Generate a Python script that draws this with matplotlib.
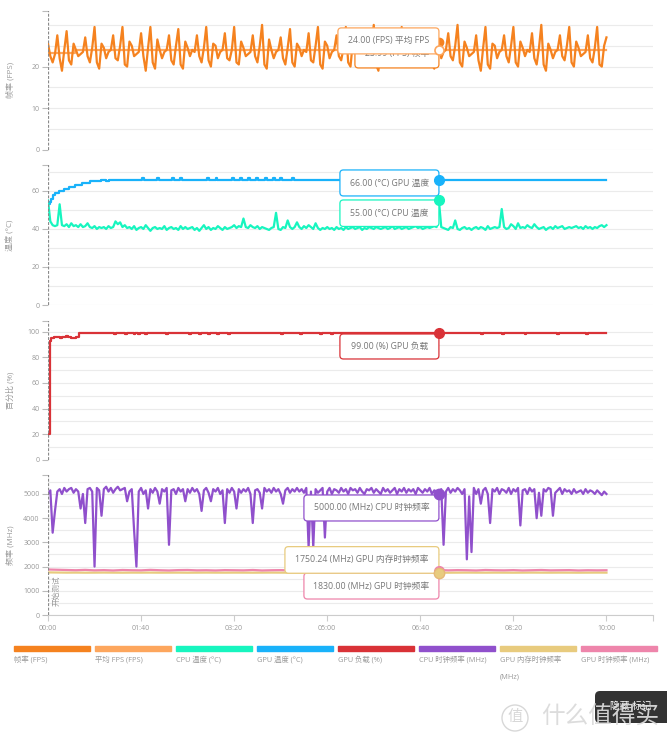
import numpy as np
import matplotlib
matplotlib.use("Agg")
import matplotlib.pyplot as plt
from matplotlib.patches import FancyBboxPatch, Rectangle, Circle
from matplotlib.transforms import ScaledTranslation

plt.rcParams['font.family'] = ['Open Sans', 'Noto Sans CJK SC', 'DejaVu Sans']

# ---- data (seconds, read off the capture) ----
# frame rate, one sample every 2.5 s from 0 to 600 s
fps = [25.5, 22.5, 21.0,
       23.0, 27.5, 22.0, 19.0, 24.0, 28.5, 21.5, 20.5, 25.5, 24.0, 22.5, 23.0,
       23.5, 27.0, 22.5, 21.0, 24.5, 29.5, 21.0, 19.5, 25.5, 24.5, 22.0, 23.5,
       24.0, 27.5, 22.0, 21.5, 25.0, 29.5, 20.5, 20.0, 26.0, 25.0, 22.5, 23.0,
       23.5, 28.0, 22.5, 19.0, 24.5, 29.5, 21.0, 19.5, 26.5, 24.0, 22.0, 23.5,
       24.0, 27.5, 21.5, 20.5, 25.0, 29.0, 20.5, 19.5, 26.0, 24.5, 22.5, 24.0,
       23.5, 27.5, 22.5, 21.0, 24.5, 29.5, 21.5, 20.0, 25.5, 25.0, 22.0, 23.5,
       24.0, 28.0, 22.0, 21.5, 24.0, 29.5, 21.0, 20.5, 26.0, 24.5, 22.5, 23.0,
       23.5, 27.5, 22.5, 21.0, 25.0, 30.0, 20.5, 19.5, 26.5, 24.0, 22.0, 23.5,
       24.0, 27.0, 22.0, 20.5, 24.5, 29.0, 21.0, 20.0, 25.5, 24.5, 22.5, 24.0,
       23.5, 28.0, 21.5, 21.0, 25.0, 29.5, 20.5, 19.5, 26.0, 25.0, 22.0, 23.5,
       24.0, 27.5, 22.5, 21.5, 24.5, 29.5, 21.0, 20.0, 26.0, 24.5, 22.5, 23.0,
       23.5, 27.0, 22.0, 21.0, 25.0, 30.0, 20.5, 19.0, 25.5, 24.5, 22.0, 23.5,
       24.0, 28.0, 22.5, 20.5, 24.5, 29.5, 21.5, 20.0, 26.5, 24.0, 22.5, 23.5,
       23.5, 27.5, 22.0, 21.0, 24.5, 29.0, 20.5, 19.5, 25.5, 26.0, 22.0, 23.5,
       24.0, 28.0, 22.5, 21.5, 25.0, 30.0, 21.0, 20.0, 26.0, 24.5, 22.5, 23.0,
       23.5, 27.5, 21.5, 19.0, 24.5, 29.5, 20.5, 19.5, 25.5, 25.0, 22.0, 23.5,
       24.0, 27.5, 22.5, 21.0, 25.0, 29.5, 21.0, 20.0, 26.0, 24.5, 22.5, 24.0,
       23.5, 28.0, 22.0, 20.5, 24.5, 30.0, 20.5, 19.0, 25.5, 24.0, 22.0, 23.5,
       24.0, 27.5, 22.5, 21.5, 25.0, 29.5, 21.0, 20.0, 26.0, 24.5, 22.5, 23.0,
       23.5, 27.5, 22.0, 21.0, 24.5, 29.5, 20.5, 20.0, 25.0, 27.0]

avg_t = [0, 28, 29, 600]
avg_fps = [23.3, 23.3, 24.0, 24.0]

# CPU temperature, every 2.5 s
cpu_temp = [55, 44, 42, 41.5, 42, 53, 42, 41.5, 42.5, 41, 43, 41.5,
            42, 41, 42.5, 41, 41.5, 43, 41, 40.5, 41.5, 40, 41, 40.5,
            41, 40, 41.5, 40.5, 41, 44, 42.5, 43.5, 41, 42, 40.5, 41,
            40, 41.5, 39.5, 40.5, 41, 40, 42, 40.5, 39, 40.5, 41, 40,
            40.5, 40, 41.5, 39.5, 40.5, 41, 40, 40.5, 39.5, 41.5, 40, 41,
            40, 40.5, 41, 39.5, 40.5, 39, 40.5, 42, 40, 41, 39.5, 40.5,
            40, 41.5, 40.5, 39.5, 41, 40, 40.5, 41, 42, 40.5, 41.5, 41,
            45.5, 41, 40.5, 42, 41, 40.5, 41.5, 40, 41, 40.5, 40, 39.5,
            40.5, 41, 48.5, 40, 39.5, 41, 40.5, 44.5, 41, 40, 41, 43.5,
            41, 40, 41.5, 40.5, 42, 41, 40, 43, 40.5, 39.5, 40.5, 40,
            41, 40, 40.5, 39.5, 41, 40, 40.5, 39.5, 41, 40, 40.5, 41,
            40, 40.5, 41, 39.5, 40.5, 40, 41, 40.5, 40, 41, 40.5, 40,
            40.5, 41, 40, 40.5, 41.5, 40, 40.5, 41, 40, 40.5, 41, 40,
            40.5, 41, 41.5, 40.5, 41, 40, 40.5, 41, 40.5, 41, 41.5, 41,
            55, 41, 40.5, 40, 39.5, 41, 40.5, 44.5, 40, 39.5, 40.5, 41,
            40, 40.5, 39.5, 40.5, 41, 40, 41, 40.5, 39.5, 41.5, 40, 40.5,
            41, 40.5, 41, 50.5, 41, 40, 40.5, 42.5, 41.5, 40, 43, 40.5,
            41, 40.5, 42, 41, 40.5, 42.5, 41, 40, 40.5, 41, 39.5, 40.5,
            41, 40, 41.5, 40.5, 41, 41.5, 40, 40.5, 41, 40.5, 41, 41.5,
            40.5, 41, 40, 41.5, 40.5, 41, 40, 41, 40.5, 41.5, 42, 41,
            42]

# GPU temperature, step changes
gpu_temp_t = [0, 2, 3, 5, 8, 12, 17, 23, 29, 36, 45, 57, 62, 66,
              101, 103, 117, 119, 133, 135, 142, 144, 171, 173, 180, 182, 198, 200,
              206, 208, 215, 217, 224, 226, 233, 235, 242, 244, 249, 251, 262, 264,
              600]
gpu_temp = [53, 54, 56, 58, 59, 60, 61, 62, 63, 64, 65, 66, 65, 66,
            67, 66, 67, 66, 67, 66, 67, 66, 67, 66, 67, 66, 67, 66,
            67, 66, 67, 66, 67, 66, 67, 66, 67, 66, 67, 66, 67, 66,
            66]

# GPU load, step changes
gpu_load_t = [0, 2, 3, 6, 13, 15, 19, 22, 25, 30, 33,
              71, 73, 83, 85, 92, 94, 97, 99, 104, 106,
              127, 129, 152, 154, 162, 164, 172, 174, 182, 184,
              193, 195, 250, 252, 271, 273, 292, 294, 304, 306,
              465, 467, 488, 490, 512, 514, 547, 549, 578, 580,
              600]
gpu_load = [20, 93, 95, 96, 95, 96, 97, 96, 95, 96, 99,
            98, 99, 98, 99, 98, 99, 98, 99, 98, 99,
            98, 99, 98, 99, 98, 99, 98, 99, 98, 99,
            98, 99, 98, 99, 98, 99, 98, 99, 98, 99,
            98, 99, 98, 99, 98, 99, 98, 99, 98, 99,
            99]

# CPU clock, every 2.5 s
cpu_clk = [5000, 5150, 3400, 4300, 5100, 5200, 5000, 5250, 5100, 5200, 5250, 5050,
           5200, 5100, 4400, 5000, 3800, 5200, 5250, 5100, 2000, 5250, 5150, 4100,
           5200, 5300, 5100, 5250, 5050, 5200, 5300, 5150, 5200, 5250, 4700, 5100,
           5200, 3500, 2000, 5100, 5250, 5000, 5150, 4400, 5200, 5050, 5250, 5100,
           4600, 5200, 5100, 5250, 2900, 5150, 5200, 5000, 5250, 5100, 5200, 4700,
           5200, 5050, 5250, 5100, 5200, 5000, 4300, 5150, 5250, 5050, 4700, 5200,
           5100, 5250, 5000, 5150, 3800, 5200, 5050, 5250, 5100, 4400, 5200, 5050,
           5200, 5100, 5250, 5000, 3800, 5150, 5200, 5050, 4400, 5250, 5100, 5200,
           5050, 5250, 5100, 5200, 5000, 4600, 5150, 5250, 5050, 5200, 5100, 5250,
           5100, 5200, 5050, 5250, 2800, 5100, 2800, 5200, 5050, 5150, 5250, 3200,
           5100, 5250, 5000, 5200, 5150, 5050, 5250, 5100, 5200, 5000, 5250, 5150,
           5200, 5050, 5250, 5100, 5000, 5200, 5150, 5250, 5050, 5200, 5100, 5000,
           5250, 5100, 5200, 5050, 5150, 5250, 5000, 5200, 5100, 5250, 5050, 5200,
           5100, 5200, 5000, 5250, 5150, 5050, 5200, 5100, 5250, 5000, 5150, 5100,
           5000, 5200, 2900, 5100, 5250, 5050, 5200, 5100, 5250, 5150, 5000, 5200,
           2300, 4900, 2600, 5250, 5000, 5200, 4600, 5150, 5250, 5000, 3800, 5200,
           5100, 5250, 5000, 5200, 5150, 5050, 5250, 5000, 5200, 5100, 5250, 3700,
           5150, 5200, 5000, 5250, 5100, 5200, 4000, 5050, 4100, 5200, 5100, 5250,
           5200, 4100, 5050, 5150, 5250, 5000, 5200, 5100, 5150, 5000, 5200, 5050,
           5100, 5150, 5000, 5200, 5050, 5150, 5100, 5000, 5150, 5050, 4950, 5100,
           5000]

# GPU memory clock and GPU core clock, every 10 s
gpu_mem_clk = [1760, 1755, 1750, 1752, 1748, 1750, 1753, 1750, 1748, 1751,
               1750, 1752, 1749, 1750, 1751, 1748, 1750, 1752, 1750, 1749,
               1751, 1750, 1748, 1750, 1752, 1750, 1749, 1751, 1750, 1748,
               1750, 1752, 1750, 1749, 1751, 1750, 1748, 1750, 1752, 1750,
               1749, 1751, 1750, 1748, 1750, 1752, 1750, 1749, 1751, 1750,
               1748, 1750, 1752, 1750, 1749, 1751, 1750, 1748, 1750, 1752, 1750]
gpu_clk = [1880, 1870, 1860, 1850, 1865, 1845, 1855, 1840, 1860, 1850,
           1845, 1865, 1850, 1840, 1855, 1860, 1845, 1850, 1840, 1855,
           1850, 1845, 1860, 1840, 1850, 1855, 1845, 1860, 1850, 1840,
           1855, 1845, 1850, 1860, 1840, 1850, 1845, 1855, 1850, 1840,
           1830, 1850, 1860, 1845, 1855, 1850, 1840, 1860, 1850, 1845,
           1855, 1840, 1850, 1860, 1845, 1850, 1855, 1840, 1850, 1845, 1850]

time_ticks = [0, 100, 200, 300, 400, 500, 600]
time_labels = ["00:00", "01:40", "03:20", "05:00", "06:40", "08:20", "10:00"]

# hover readout at 07:00
tip_t = 420
tip_values = [23.99, 24.00, 55.00, 66.00, 99.00, 5000.00, 1750.24, 1830.00]
tip_units = ["FPS", "FPS", "°C", "°C", "%", "MHz", "MHz", "MHz"]
tip_names = ["帧率", "平均 FPS", "CPU 温度", "GPU 温度", "GPU 负载",
             "CPU 时钟频率", "GPU 内存时钟频率", "GPU 时钟频率"]

legend_labels = ["帧率 (FPS)", "平均 FPS (FPS)", "CPU 温度 (°C)", "GPU 温度 (°C)",
                 "GPU 负载 (%)", "CPU 时钟频率 (MHz)", "GPU 内存时钟频率\n(MHz)",
                 "GPU 时钟频率 (MHz)"]

c_fps, c_avg = "#F5821F", "#FDA65D"
c_ctemp, c_gtemp = "#17F5BF", "#19B2FA"
c_load, c_cclk = "#D93237", "#9050CC"
c_mclk, c_gclk = "#E8CB7E", "#EE85AB"
colors = [c_fps, c_avg, c_ctemp, c_gtemp, c_load, c_cclk, c_mclk, c_gclk]

t25 = np.arange(len(fps)) * 2.5
t10 = np.arange(len(gpu_clk)) * 10.0

W, H = 667, 747
fig = plt.figure(figsize=(W / 100, H / 100), dpi=100)


def panel(bottom, top, ymax, labeled, step, ylabel):
    ax = fig.add_axes([48 / W, 1 - bottom / H, 605 / W, (bottom - top) / H])
    ax.set_xlim(0, 650)
    ax.set_ylim(0, ymax)
    for s in ax.spines.values():
        s.set_visible(False)
    for g in np.arange(0, ymax, step):
        ax.axhline(g, color="#ebebeb", lw=0.8, zorder=0)
    ax.axvline(0, color="#8a8a8a", lw=1.6, ls=(0, (1.3, 0.7)), zorder=3)
    ax.set_yticks(labeled + [ymax])
    ax.set_yticklabels([str(v) for v in labeled] + [""])
    ax.tick_params(axis="y", length=4, width=0.8, color="#bbbbbb",
                   labelsize=5, labelcolor="#999999", pad=2)
    ax.tick_params(axis="x", bottom=False, labelbottom=False)
    ax.set_ylabel(ylabel, fontsize=5.8, color="#999999")
    ax.yaxis.set_label_coords(-0.056, 0.5)
    return ax


ax1 = panel(150, 10.7, 33.4, [0, 10, 20], 5, "帧率 (FPS)")
ax2 = panel(305, 165.3, 73.5, [0, 20, 40, 60], 10, "温度 (°C)")
ax3 = panel(459.7, 320.7, 108.6, [0, 20, 40, 60, 80, 100], 10, "百分比 (%)")
ax4 = panel(615, 475.3, 5772, [0, 1000, 2000, 3000, 4000, 5000], 500, "频率 (MHz)")

lw = 1.6
ax1.plot(avg_t, avg_fps, color=c_avg, lw=lw, drawstyle="steps-post", zorder=2)
ax1.plot(t25, fps, color=c_fps, lw=lw, zorder=2.5)

ax2.plot(gpu_temp_t, gpu_temp, color=c_gtemp, lw=lw, drawstyle="steps-post", zorder=2)
ax2.plot(t25, cpu_temp, color=c_ctemp, lw=lw, zorder=2.5)

ax3.plot(gpu_load_t, gpu_load, color=c_load, lw=lw, drawstyle="steps-post", zorder=2)

ax4.plot(t25, cpu_clk, color=c_cclk, lw=lw, zorder=2)
ax4.plot(t10, gpu_mem_clk, color=c_mclk, lw=lw, zorder=2.2)
ax4.plot(t10, gpu_clk, color=c_gclk, lw=lw, zorder=2.4)
ax4.text(10, 990, "开始测试", rotation=90, ha="center", va="center",
         fontsize=5.5, color="#999999", zorder=4)

# bottom time axis
ax4.spines["bottom"].set_visible(True)
ax4.spines["bottom"].set_color("#cccccc")
ax4.spines["bottom"].set_linewidth(0.8)
ax4.set_xticks(time_ticks + [650])
ax4.set_xticklabels(time_labels + [""])
ax4.tick_params(axis="x", bottom=True, labelbottom=True, length=4, width=0.8,
                color="#cccccc", labelsize=5, labelcolor="#999999", pad=3)


def tooltip(ax, y, text, ec, left, top, w, h, z):
    # box offsets in screen pixels from the hovered point (top grows downward)
    tr = fig.dpi_scale_trans + ScaledTranslation(tip_t, y, ax.transData)
    ax.add_patch(FancyBboxPatch((left / 100, -(top + h) / 100), w / 100, h / 100,
                                boxstyle="round,pad=0,rounding_size=0.035",
                                transform=tr, fc="white", ec=ec, lw=0.9,
                                zorder=z, clip_on=False))
    ax.text((left + w / 2) / 100, -(top + h / 2) / 100, text, transform=tr,
            ha="center", va="center", fontsize=6.3, color="#777777",
            zorder=z + 0.1, clip_on=False)


tips = [f"{v:.2f} ({u}) {n}" for v, u, n in zip(tip_values, tip_units, tip_names)]

tooltip(ax1, tip_values[0], tips[0], c_fps, -84, -10, 84, 28, 4)
ax1.plot([tip_t], [fps[int(tip_t / 2.5)]], "o", color=c_fps, ms=6, zorder=4.5, clip_on=False)
tooltip(ax1, tip_values[1], tips[1], c_avg, -101, -22, 101, 26, 5)
ax1.plot([tip_t], [tip_values[1]], "o", mfc="white", mec=c_avg, mew=1.2, ms=6.5, zorder=6)

tooltip(ax2, tip_values[3], tips[3], c_gtemp, -99, -9.6, 99, 26, 5)
tooltip(ax2, tip_values[2], tips[2], c_ctemp, -99, -0.5, 99, 26.5, 5)
ax2.plot([tip_t], [tip_values[3]], "o", color=c_gtemp, ms=7, zorder=6)
ax2.plot([tip_t], [tip_values[2]], "o", color=c_ctemp, ms=7, zorder=6)

tooltip(ax3, tip_values[4], tips[4], c_load, -99, 1, 99, 25, 5)
ax3.plot([tip_t], [tip_values[4]], "o", color=c_load, ms=7, zorder=6, clip_on=False)

tooltip(ax4, tip_values[5], tips[5], c_cclk, -135, 1, 135, 26, 5)
tooltip(ax4, tip_values[7], tips[7], c_gclk, -135, 2.3, 135, 26, 4)
tooltip(ax4, tip_values[6], tips[6], c_mclk, -154, -26, 154, 26.6, 5)
ax4.plot([tip_t], [tip_values[5]], "o", color=c_cclk, ms=7.5, zorder=6)
ax4.plot([tip_t], [tip_values[7]], "o", color=c_gclk, ms=7, zorder=6)
ax4.plot([tip_t], [tip_values[6]], "o", mfc=c_mclk, mec="#E5B877", mew=1, ms=7.5, zorder=6.5)

# legend strip under the charts
inch = fig.dpi_scale_trans
for i, (lab, col) in enumerate(zip(legend_labels, colors)):
    x0 = 14 + 81 * i
    fig.patches.append(Rectangle((x0 / 100, (H - 651) / 100), 0.76, 0.05,
                                 transform=inch, color=col))
    for j, line in enumerate(lab.split("\n")):
        fig.text(x0 / 100, (H - 660 - 17 * j) / 100, line, transform=inch,
                 ha="left", va="center", fontsize=5.3, color="#999999")

# "hide markers" button and site watermark
fig.patches.append(FancyBboxPatch((5.95, (H - 723) / 100), 0.85, 0.32,
                                  boxstyle="round,pad=0,rounding_size=0.05",
                                  transform=inch, fc="#333333", ec="none"))
fig.text(6.31, (H - 706) / 100, "隐藏 标记", transform=inch, ha="center",
         va="center", fontsize=7, color="white")
fig.patches.append(Circle((5.15, (H - 718) / 100), 0.13, transform=inch,
                          fc="none", ec="#d8d8d8", lw=1))
fig.text(5.15, (H - 718) / 100, "值", transform=inch, ha="center", va="center",
         fontsize=11, color="#d8d8d8")
fig.text(5.41, (H - 718) / 100, "什么值得买", transform=inch, ha="left",
         va="center", fontsize=17, color="#dadada", alpha=0.95)

fig.savefig("out.png", dpi=100)
